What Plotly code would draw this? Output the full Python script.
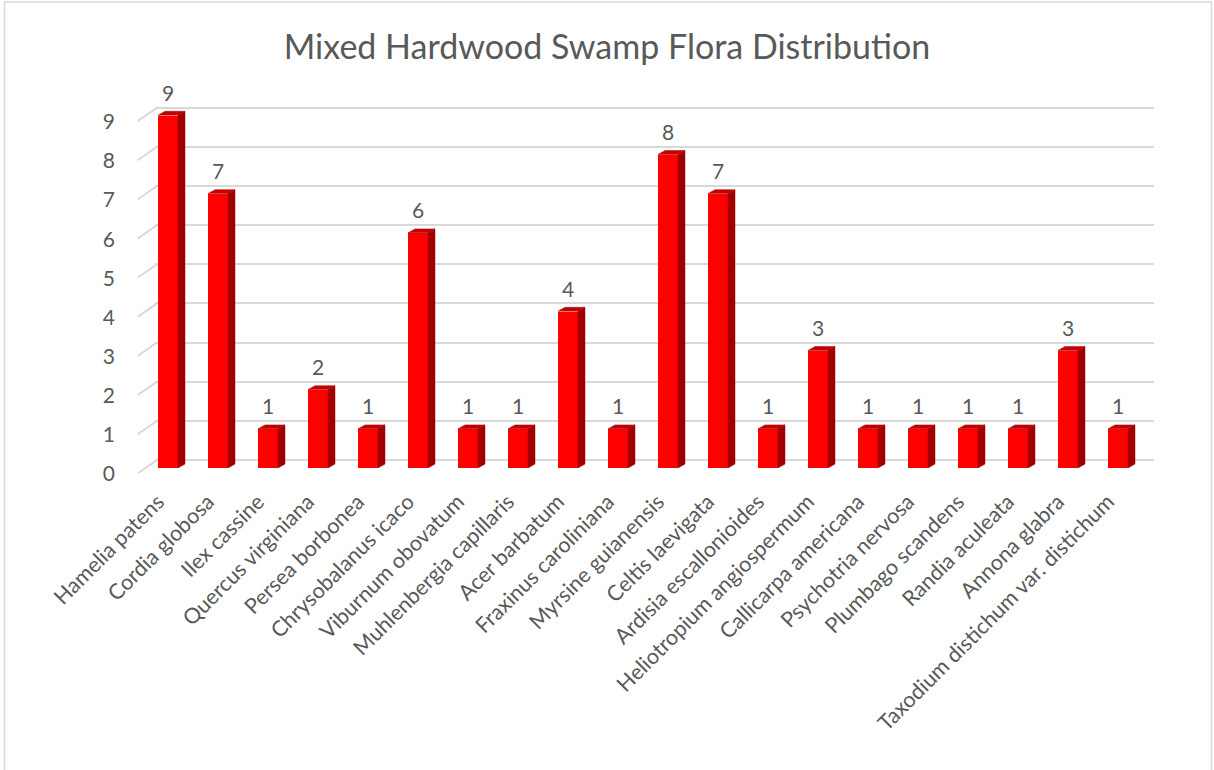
import plotly.graph_objects as go

# ---- data ----
species = [
    "Hamelia patens", "Cordia globosa", "Ilex cassine", "Quercus virginiana",
    "Persea borbonea", "Chrysobalanus icaco", "Viburnum obovatum",
    "Muhlenbergia capillaris", "Acer barbatum", "Fraxinus caroliniana",
    "Myrsine guianensis", "Celtis laevigata", "Ardisia escallonioides",
    "Heliotropium angiospermum", "Callicarpa americana", "Psychotria nervosa",
    "Plumbago scandens", "Randia aculeata", "Annona glabra",
    "Taxodium distichum var. distichum",
]
counts = [9, 7, 1, 2, 1, 6, 1, 1, 4, 1, 8, 7, 1, 3, 1, 1, 1, 1, 3, 1]
value_ticks = list(range(10))

# ---- page geometry (pixels) ----
W, H = 1214, 770
FONT = "Lato"
TEXT = "#595959"
GRID = "#D9D9D9"
CAT_SIZE = 21.5
NUM_SIZE = 21


def fx(p):
    return p / W


def fy(p):
    return 1 - p / H


# front plane of the columns
FRONT_L, FRONT_R = 143, 1143
FRONT_BASE, FRONT_UNIT = 468, 39.2
Y_MAX = 9.5
# back wall carrying the gridlines
BACK_L, BACK_R = 155, 1154
BACK_BASE, BACK_UNIT = 460, 39.14
# receding floor/wall edge ticks
DIAG_L, DIAG_R, DIAG_DROP = 137.5, 157, 13.5

BAR_W = 0.4
DEPTH_X = 0.14   # column depth, category units
DEPTH_Y = 0.10   # column depth, value units

fig = go.Figure()

# back wall gridlines live on the primary subplot
fig.add_trace(go.Scatter(x=[None], y=[None], xaxis="x", yaxis="y",
                         showlegend=False, hoverinfo="skip"))

# receding tick edges from the wall to the front
drop = DIAG_DROP / BACK_UNIT
dx, dy = [], []
for v in value_ticks:
    dx += [1, 0, None]
    dy += [v, v - drop, None]
fig.add_trace(go.Scatter(x=dx, y=dy, xaxis="x3", yaxis="y3", mode="lines",
                         line=dict(color=GRID, width=2),
                         showlegend=False, hoverinfo="skip"))

# front faces of the columns
xs = list(range(len(species)))
fig.add_trace(go.Bar(x=xs, y=counts, width=BAR_W, xaxis="x2", yaxis="y2",
                     marker=dict(color="#FF0000", line=dict(width=0)),
                     showlegend=False))

# side and top faces
sx, sy, tx, ty = [], [], [], []
for i, v in zip(xs, counts):
    r = i + BAR_W / 2
    l = i - BAR_W / 2
    sx += [r, r, r + DEPTH_X, r + DEPTH_X, r, None]
    sy += [0, v, v + DEPTH_Y, DEPTH_Y, 0, None]
    tx += [l, r, r + DEPTH_X, l + DEPTH_X, l, None]
    ty += [v, v, v + DEPTH_Y, v + DEPTH_Y, v, None]
fig.add_trace(go.Scatter(x=sx, y=sy, xaxis="x2", yaxis="y2", mode="lines",
                         fill="toself", fillcolor="#A00000",
                         line=dict(color="#A00000", width=0.5),
                         showlegend=False, hoverinfo="skip"))
fig.add_trace(go.Scatter(x=tx, y=ty, xaxis="x2", yaxis="y2", mode="lines",
                         fill="toself", fillcolor="#C40000",
                         line=dict(color="#B00000", width=0.5),
                         showlegend=False, hoverinfo="skip"))

# value labels above the columns
annotations = [
    dict(x=i, y=v, xref="x2", yref="y2", text=str(v), showarrow=False,
         yshift=23, font=dict(family=FONT, size=NUM_SIZE, color=TEXT))
    for i, v in zip(xs, counts)
]

fig.update_layout(
    width=W, height=H,
    margin=dict(l=0, r=0, t=0, b=0, autoexpand=False),
    paper_bgcolor="white", plot_bgcolor="rgba(0,0,0,0)",
    title=dict(text="Mixed Hardwood Swamp Flora Distribution",
               x=0.5, xanchor="center", y=fy(47), yanchor="middle",
               yref="container", automargin=False,
               font=dict(family=FONT, size=34, color=TEXT)),
    annotations=annotations,
    xaxis=dict(domain=[fx(BACK_L), fx(BACK_R)], range=[0, 1], visible=False,
               anchor="y", automargin=False),
    yaxis=dict(domain=[fy(BACK_BASE), fy(BACK_BASE - Y_MAX * BACK_UNIT)],
               range=[0, Y_MAX], anchor="x", tickvals=value_ticks,
               showgrid=True, gridcolor=GRID, gridwidth=2,
               zeroline=True, zerolinecolor=GRID, zerolinewidth=2,
               showline=False, ticks="", automargin=False,
               ticklabelshift=14, ticklabelstandoff=39,
               tickfont=dict(family=FONT, size=NUM_SIZE, color=TEXT)),
    xaxis2=dict(domain=[fx(FRONT_L), fx(FRONT_R)], range=[-0.5, 19.5],
                anchor="y2", tickmode="array", tickvals=xs, ticktext=species,
                tickangle=-45, showgrid=False, zeroline=False, showline=False,
                ticks="", automargin=False,
                ticklabelshift=-10, ticklabelstandoff=16,
                tickfont=dict(family=FONT, size=CAT_SIZE, color=TEXT)),
    yaxis2=dict(domain=[fy(FRONT_BASE), fy(FRONT_BASE - Y_MAX * FRONT_UNIT)],
                range=[0, Y_MAX], anchor="x2", visible=False, automargin=False),
    xaxis3=dict(domain=[fx(DIAG_L), fx(DIAG_R)], range=[0, 1], anchor="y3",
                visible=False, automargin=False),
    yaxis3=dict(domain=[fy(BACK_BASE + DIAG_DROP), fy(BACK_BASE - 9 * BACK_UNIT)],
                range=[-drop, 9], anchor="x3", visible=False, automargin=False),
    shapes=[dict(type="rect", xref="paper", yref="paper",
                 x0=fx(4.5), x1=fx(1211.5), y0=-0.02, y1=fy(2),
                 line=dict(color=GRID, width=1.5), layer="below")],
    bargap=0,
)

fig.write_html("out.html")
